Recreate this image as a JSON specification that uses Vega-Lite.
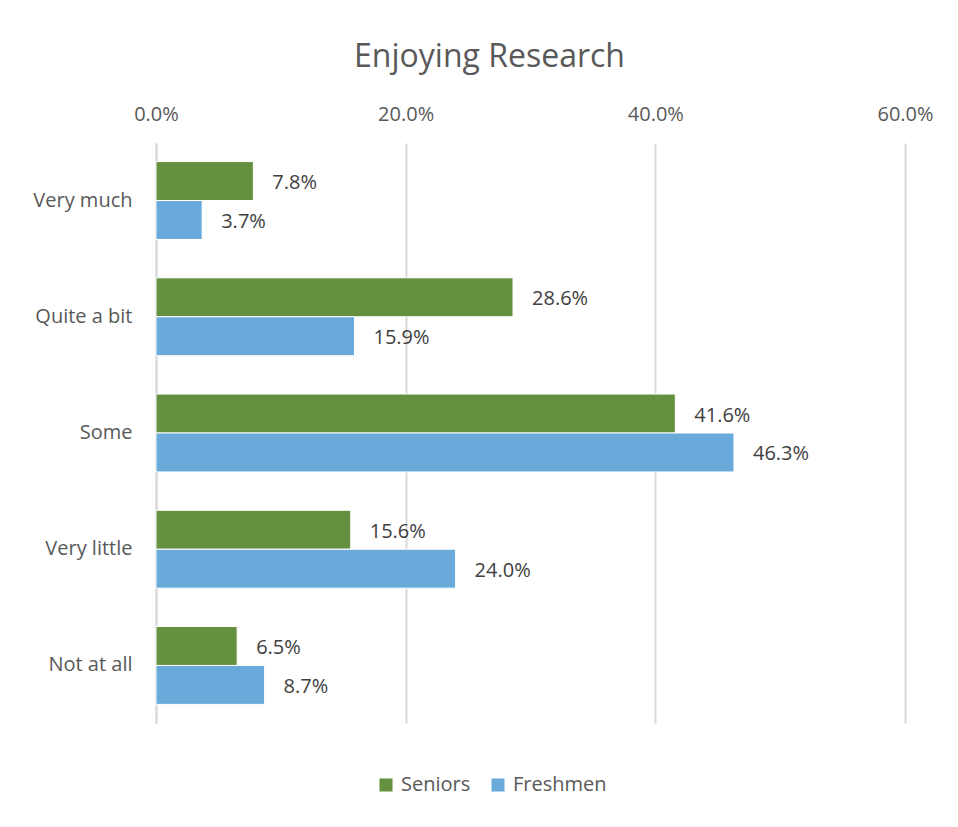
{
  "$schema": "https://vega.github.io/schema/vega-lite/v6.json",
  "width": 749,
  "height": 580,
  "autosize": "none",
  "padding": {"left": 156, "top": 143, "right": 53, "bottom": 104},
  "background": "white",
  "title": {
    "text": "Enjoying Research",
    "font": "Open Sans",
    "fontSize": 32,
    "fontWeight": "normal",
    "color": "#595959",
    "anchor": "middle",
    "dx": -41,
    "offset": 30
  },
  "data": {
    "values": [
      {"category": "Very much", "group": "Seniors", "value": 0.078},
      {"category": "Very much", "group": "Freshmen", "value": 0.037},
      {"category": "Quite a bit", "group": "Seniors", "value": 0.286},
      {"category": "Quite a bit", "group": "Freshmen", "value": 0.159},
      {"category": "Some", "group": "Seniors", "value": 0.416},
      {"category": "Some", "group": "Freshmen", "value": 0.463},
      {"category": "Very little", "group": "Seniors", "value": 0.156},
      {"category": "Very little", "group": "Freshmen", "value": 0.24},
      {"category": "Not at all", "group": "Seniors", "value": 0.065},
      {"category": "Not at all", "group": "Freshmen", "value": 0.087}
    ]
  },
  "encoding": {
    "y": {
      "field": "category",
      "type": "nominal",
      "sort": ["Very much", "Quite a bit", "Some", "Very little", "Not at all"],
      "scale": {"paddingInner": 0.33, "paddingOuter": 0.16},
      "axis": {
        "title": null,
        "ticks": false,
        "domain": true,
        "domainColor": "#d9d9d9",
        "domainWidth": 2,
        "labelFont": "Open Sans",
        "labelFontSize": 20,
        "labelColor": "#595959",
        "labelPadding": 24
      }
    },
    "yOffset": {
      "field": "group",
      "type": "nominal",
      "sort": ["Seniors", "Freshmen"],
      "scale": {"paddingInner": 0, "paddingOuter": 0}
    },
    "x": {
      "field": "value",
      "type": "quantitative",
      "scale": {"domain": [0, 0.6], "nice": false},
      "axis": {
        "orient": "top",
        "title": null,
        "format": ".1%",
        "values": [0, 0.2, 0.4, 0.6],
        "domain": false,
        "ticks": false,
        "grid": true,
        "gridColor": "#d9d9d9",
        "gridWidth": 2,
        "labelFlush": false,
        "labelFont": "Open Sans",
        "labelFontSize": 20,
        "labelColor": "#595959",
        "labelPadding": 19
      }
    }
  },
  "layer": [
    {
      "mark": {"type": "bar", "stroke": "white", "strokeWidth": 1},
      "encoding": {
        "color": {
          "field": "group",
          "type": "nominal",
          "scale": {"domain": ["Seniors", "Freshmen"], "range": ["#65903F", "#6AAADB"]},
          "legend": {
            "title": null,
            "orient": "none",
            "direction": "horizontal",
            "legendX": 220,
            "legendY": 632,
            "symbolType": "square",
            "symbolSize": 170,
            "symbolStrokeWidth": 0,
            "labelFont": "Open Sans",
            "labelFontSize": 20,
            "labelColor": "#595959",
            "labelOffset": 5,
            "columnPadding": 17
          }
        }
      }
    },
    {
      "mark": {
        "type": "text",
        "align": "left",
        "baseline": "middle",
        "dx": 19,
        "dy": 2,
        "font": "Open Sans",
        "fontSize": 20,
        "fill": "#404040"
      },
      "encoding": {
        "text": {"field": "value", "type": "quantitative", "format": ".1%"}
      }
    }
  ],
  "config": {"view": {"stroke": null}}
}
